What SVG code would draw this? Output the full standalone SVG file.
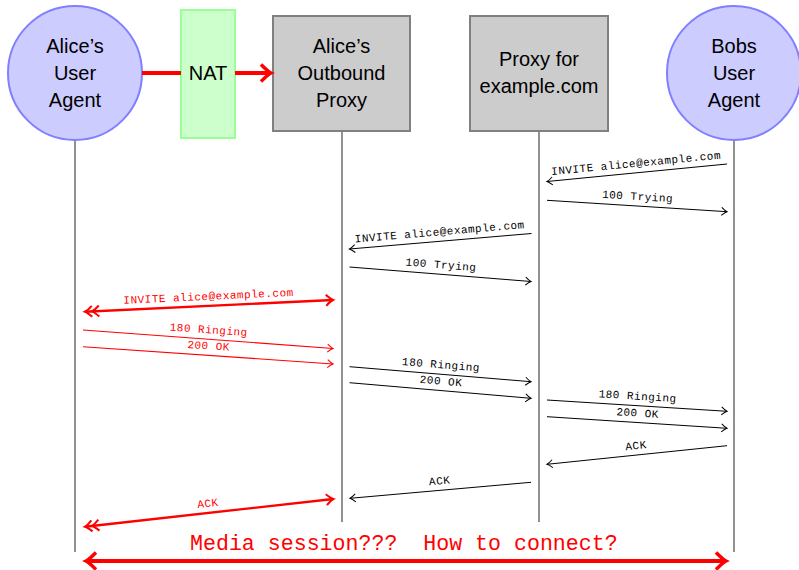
<svg xmlns="http://www.w3.org/2000/svg" width="799" height="570" viewBox="0 0 799 570">
<style>
.ua{fill:#ccccff;stroke:#8080ff;stroke-width:2}
.nat{fill:#ccffcc;stroke:#99ff99;stroke-width:2}
.px{fill:#cccccc;stroke:#808080;stroke-width:2}
.nt{font-family:"Liberation Sans","DejaVu Sans",sans-serif;font-size:20px;text-anchor:middle;fill:#000}
.life{stroke:#222;stroke-width:1;fill:none}
.m{stroke:#000;stroke-width:1;fill:none;marker-end:url(#a)}
.mr{stroke:#f00;stroke-width:1.1;fill:none;marker-end:url(#ar)}
.mrt{stroke:#f00;stroke-width:2.4;fill:none;marker-end:url(#art);marker-start:url(#ard)}
.big{stroke:#f00;stroke-width:4;fill:none}
.lb{font-family:"Liberation Mono","DejaVu Sans Mono",monospace;font-size:11px;letter-spacing:0.5px;text-anchor:middle;fill:#000}
.lbr{font-family:"Liberation Mono","DejaVu Sans Mono",monospace;font-size:11px;letter-spacing:0.5px;text-anchor:middle;fill:#f00}
.media{font-family:"Liberation Mono","DejaVu Sans Mono",monospace;font-size:21.6px;fill:#f00}
</style>
<defs>
<marker id="a" markerUnits="userSpaceOnUse" orient="auto" overflow="visible" markerWidth="1" markerHeight="1">
<path d="M-5.5,-4 Q-2,-0.8 0,0 Q-2,0.8 -5.5,4" fill="none" stroke="#000" stroke-width="1"/>
</marker>
<marker id="ar" markerUnits="userSpaceOnUse" orient="auto" overflow="visible" markerWidth="1" markerHeight="1">
<path d="M-5.5,-4 Q-2,-0.8 0,0 Q-2,0.8 -5.5,4" fill="none" stroke="#f00" stroke-width="1.1"/>
</marker>
<marker id="art" markerUnits="userSpaceOnUse" orient="auto" overflow="visible" markerWidth="1" markerHeight="1">
<path d="M-7,-5.5 Q-2.5,-1 0,0 Q-2.5,1 -7,5.5" fill="none" stroke="#f00" stroke-width="2"/>
</marker>
<marker id="ard" markerUnits="userSpaceOnUse" orient="auto-start-reverse" overflow="visible" markerWidth="1" markerHeight="1">
<path d="M-7,-5.5 Q-2.5,-1 0,0 Q-2.5,1 -7,5.5 M-14,-5.5 Q-9.5,-1 -7,0 Q-9.5,1 -14,5.5" fill="none" stroke="#f00" stroke-width="2"/>
</marker>
<marker id="ab" markerUnits="userSpaceOnUse" orient="auto-start-reverse" overflow="visible" markerWidth="1" markerHeight="1">
<path d="M-10,-8.5 Q-3,-1.5 0,0 Q-3,1.5 -10,8.5" fill="none" stroke="#f00" stroke-width="3.5"/>
</marker>
</defs>

<g id="lifelines">
<line class="life" x1="75" y1="141" x2="75" y2="552"/>
<line class="life" x1="342" y1="132" x2="342" y2="522"/>
<line class="life" x1="539" y1="132" x2="539" y2="522"/>
<line class="life" x1="734" y1="141" x2="734" y2="552"/>
</g>

<g id="alice-ua">
<circle class="ua" cx="75" cy="73" r="67"/>
<text class="nt" x="75" y="53">Alice’s</text>
<text class="nt" x="75" y="80">User</text>
<text class="nt" x="75" y="107">Agent</text>
</g>
<g id="nat">
<rect class="nat" x="181" y="10" width="54" height="128"/>
<text class="nt" x="208" y="80">NAT</text>
</g>
<g id="outbound-proxy">
<rect class="px" x="273" y="16" width="137" height="115"/>
<text class="nt" x="341.5" y="53">Alice’s</text>
<text class="nt" x="341.5" y="80">Outbound</text>
<text class="nt" x="341.5" y="107">Proxy</text>
</g>
<g id="proxy-example">
<rect class="px" x="470" y="16" width="138" height="115"/>
<text class="nt" x="539" y="66">Proxy for</text>
<text class="nt" x="539" y="93">example.com</text>
</g>
<g id="bob-ua">
<circle class="ua" cx="734" cy="73" r="67"/>
<text class="nt" x="734" y="53">Bobs</text>
<text class="nt" x="734" y="80">User</text>
<text class="nt" x="734" y="107">Agent</text>
</g>

<g id="connectors">
<line x1="142" y1="73" x2="181" y2="73" stroke="#f00" stroke-width="4"/>
<line x1="235" y1="73" x2="271" y2="73" stroke="#f00" stroke-width="4" marker-end="url(#ab)"/>

<line class="m" x1="727" y1="164" x2="547" y2="181.5"/>
<line class="m" x1="547" y1="200.3" x2="727" y2="211.7"/>
<line class="m" x1="531.5" y1="233.5" x2="349.5" y2="249"/>
<line class="m" x1="349.5" y1="267" x2="531" y2="281.5"/>
<line class="mrt" x1="85" y1="311.7" x2="333" y2="300"/>
<line class="mr" x1="83" y1="330" x2="333" y2="348.5"/>
<line class="mr" x1="83" y1="346.7" x2="333" y2="364"/>
<line class="m" x1="349.5" y1="366.7" x2="531" y2="381.7"/>
<line class="m" x1="349.5" y1="382.7" x2="531" y2="398.3"/>
<line class="m" x1="547" y1="400" x2="727" y2="411.3"/>
<line class="m" x1="547" y1="416.7" x2="727" y2="428.3"/>
<line class="m" x1="727" y1="445.7" x2="547" y2="464.3"/>
<line class="m" x1="531" y1="482.3" x2="350" y2="498.3"/>
<line class="mrt" x1="85" y1="526.7" x2="333.3" y2="499"/>
<line class="big" x1="86" y1="561" x2="726" y2="561" marker-start="url(#ab)" marker-end="url(#ab)"/>
</g>

<g id="labels">
<text class="lb" transform="translate(637,172.75) rotate(-5.55)" x="0" y="-6">INVITE alice@example.com</text>
<text class="lb" transform="translate(637,206) rotate(3.62)" x="0" y="-6">100 Trying</text>
<text class="lb" transform="translate(440.5,241.25) rotate(-4.87)" x="0" y="-6">INVITE alice@example.com</text>
<text class="lb" transform="translate(440.25,274.25) rotate(4.57)" x="0" y="-6">100 Trying</text>
<text class="lbr" transform="translate(209,305.85) rotate(-2.7)" x="0" y="-6">INVITE alice@example.com</text>
<text class="lbr" transform="translate(208,339.25) rotate(4.23)" x="0" y="-6">180 Ringing</text>
<text class="lbr" transform="translate(208,355.35) rotate(3.96)" x="0" y="-6">200 OK</text>
<text class="lb" transform="translate(440.25,374.2) rotate(4.72)" x="0" y="-6">180 Ringing</text>
<text class="lb" transform="translate(440.25,390.5) rotate(4.88)" x="0" y="-6">200 OK</text>
<text class="lb" transform="translate(637,405.65) rotate(3.59)" x="0" y="-6">180 Ringing</text>
<text class="lb" transform="translate(637,422.5) rotate(3.69)" x="0" y="-6">200 OK</text>
<text class="lb" transform="translate(637,455) rotate(-5.9)" x="0" y="-6">ACK</text>
<text class="lb" transform="translate(440.5,490.3) rotate(-5.05)" x="0" y="-6">ACK</text>
<text class="lbr" transform="translate(209,512.85) rotate(-6.36)" x="0" y="-6">ACK</text>
<text class="media" x="190" y="549.5" xml:space="preserve">Media session???  How to connect?</text>
</g>
</svg>
